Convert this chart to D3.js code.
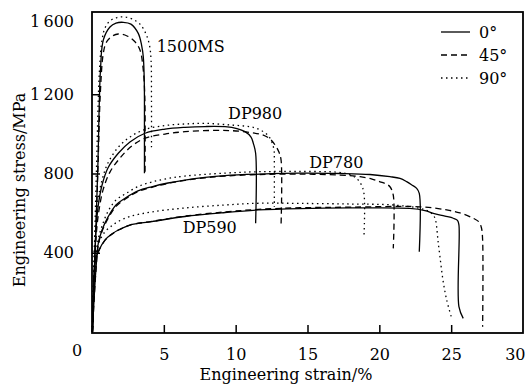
<!DOCTYPE html>
<meta charset="utf-8">
<style>

body {
  margin: 0;
  background-color: white;
  overflow: hidden;
}

text {
  font-family: "DejaVu Serif", serif;
  font-size: 16px;
  fill: black;
}

.curve {
  fill: none;
  stroke: black;
  stroke-width: 1.3px;
}

</style>
<body>

<script src="https://cdn.jsdelivr.net/npm/d3@7"></script>
<script>

// strain (%), stress (MPa)
var ms1500_0 = [[0.03,0],[0.40,818],[0.59,1322],[0.79,1474],[1.25,1539],[1.67,1559],[2.18,1563],[2.71,1554],[3.22,1507],[3.45,1448],[3.57,1389],[3.64,1257],[3.65,1019],[3.65,801]];
var ms1500_45 = [[0.03,0],[0.40,792],[0.59,1221],[0.77,1398],[0.97,1458],[1.32,1489],[1.83,1504],[2.44,1494],[2.99,1465],[3.34,1423],[3.57,1322],[3.68,1171],[3.69,802]];
var ms1500_90 = [[0.02,0],[0.31,818],[0.52,1322],[0.70,1474],[0.90,1534],[1.25,1570],[1.74,1587],[2.23,1590],[2.78,1580],[3.34,1554],[3.76,1504],[4.00,1448],[4.11,1373],[4.14,1171],[4.14,924]];

var dp980_0 = [[0.03,0],[0.14,262],[0.28,515],[0.44,641],[0.70,742],[1.11,828],[1.83,902],[2.64,959],[3.69,1003],[5.08,1024],[6.47,1033],[7.87,1037],[9.26,1036],[10.09,1027],[10.65,1011],[11.07,984],[11.23,952],[11.39,902],[11.39,549]];
var dp980_45 = [[0.03,0],[0.14,262],[0.31,505],[0.49,616],[0.77,717],[1.25,807],[1.95,878],[2.78,939],[3.69,978],[5.08,999],[6.47,1011],[8.21,1017],[9.72,1016],[11.0,1007],[11.92,994],[12.39,974],[12.74,944],[13.01,908],[13.16,868],[13.16,540]];
var dp980_90 = [[0.02,0],[0.10,262],[0.24,525],[0.42,666],[0.70,767],[1.11,853],[1.81,931],[2.64,984],[3.69,1022],[5.08,1042],[6.47,1050],[7.87,1053],[9.61,1045],[11.0,1036],[11.48,1027],[11.92,1011],[12.29,989],[12.51,960],[12.67,918],[12.69,868],[12.69,631]];

var dp780_0 = [[0.03,0],[0.14,161],[0.28,323],[0.44,448],[0.70,515],[1.13,582],[1.67,641],[2.30,675],[3.20,712],[4.16,733],[5.29,752],[6.47,767],[7.87,780],[9.26,789],[11.69,797],[14.48,802],[17.26,800],[19.35,795],[20.74,784],[21.44,775],[21.90,759],[22.27,742],[22.60,725],[22.78,700],[22.78,405]];
var dp780_45 = [[0.03,0],[0.14,155],[0.28,315],[0.44,440],[0.70,508],[1.13,575],[1.67,634],[2.30,670],[3.20,708],[4.16,730],[5.29,750],[6.47,765],[7.87,778],[9.26,787],[11.69,795],[14.48,797],[17.26,792],[18.65,784],[19.49,772],[20.05,758],[20.47,747],[20.74,733],[20.97,691],[20.97,422]];
var dp780_90 = [[0.02,0],[0.10,161],[0.24,338],[0.42,464],[0.70,535],[1.13,611],[1.67,666],[2.30,696],[3.20,734],[4.16,757],[5.29,775],[6.47,787],[9.26,802],[11.69,809],[14.48,810],[16.98,807],[17.82,797],[18.38,777],[18.72,747],[18.93,700],[18.93,481]];

var dp590_0 = [[0.03,0],[0.10,161],[0.17,313],[0.28,373],[0.49,414],[0.90,464],[1.39,495],[1.83,515],[2.64,540],[4.16,557],[6.47,583],[9.26,603],[11.58,616],[14.48,623],[17.96,626],[22.13,624],[23.18,613],[23.76,599],[24.57,585],[25.15,574],[25.44,563],[25.54,540],[25.54,128],[25.84,69]];
var dp590_45 = [[0.03,0],[0.10,161],[0.17,310],[0.28,370],[0.49,412],[0.90,462],[1.39,494],[1.83,514],[2.64,540],[4.16,558],[6.47,585],[9.26,606],[11.58,619],[14.48,627],[17.96,630],[22.83,632],[24.69,616],[25.61,601],[26.54,574],[26.94,555],[27.11,525],[27.19,464],[27.19,27]];
var dp590_90 = [[0.02,0],[0.09,161],[0.16,323],[0.28,404],[0.49,454],[0.90,505],[1.39,537],[1.83,558],[2.64,583],[4.16,606],[6.47,626],[9.26,641],[11.69,650],[14.48,649],[17.96,646],[20.97,641],[22.83,624],[23.39,611],[23.76,590],[23.91,565],[23.99,531],[24.08,464],[24.22,380],[24.43,262],[24.69,161],[25.04,69]];

var orientations = ["0°", "45°", "90°"];
var dashes = ["none", "6,4", "1.5,3.5"];

var steels = ["1500MS", "DP980", "DP780", "DP590"];
var curves = [
  [ms1500_0, ms1500_45, ms1500_90],
  [dp980_0, dp980_45, dp980_90],
  [dp780_0, dp780_45, dp780_90],
  [dp590_0, dp590_45, dp590_90]
];
// where each steel name sits (strain, stress)
var steelLabelAt = [[4.5, 1411], [9.47, 1075], [15.12, 830], [6.31, 502]];

var xTicks = [5, 10, 15, 20, 25, 30];
var yTicks = [400, 800, 1200, 1600];

var width = 525,
    height = 385;

var x = d3.scaleLinear()
    .domain([0, 30])
    .range([92, 523]);

var y = d3.scaleLinear()
    .domain([0, 1615])
    .range([332, 12]);

var svg = d3.select("body").append("svg")
    .attr("width", width)
    .attr("height", height);

var line = d3.line()
    .x(function(d) { return x(d[0]); })
    .y(function(d) { return y(d[1]); })
    .curve(d3.curveCatmullRom.alpha(0.5));

curves.forEach(function(group) {
  group.forEach(function(pts, i) {
    svg.append("path")
        .attr("class", "curve")
        .attr("d", line(pts))
        .style("stroke-dasharray", dashes[i]);
  });
});

// axes, ticks pointing inward
var xAxis = svg.append("g")
    .attr("transform", "translate(0," + 333 + ")")
    .call(d3.axisBottom(x).tickValues(xTicks).tickSizeInner(-8).tickSizeOuter(0).tickPadding(16));

var yAxis = svg.append("g")
    .attr("transform", "translate(" + 92 + ",0)")
    .call(d3.axisLeft(y).tickValues(yTicks).tickSizeInner(-8).tickSizeOuter(0).tickPadding(18)
      .tickFormat(function(d) {
        return d >= 1000 ? Math.floor(d / 1000) + "\u2009" + d3.format("03d")(d % 1000) : d;
      }));

[xAxis, yAxis].forEach(function(g) {
  g.select(".domain").remove();
  g.selectAll("text")
      .attr("font-family", null)
      .attr("font-size", null);
  g.selectAll(".tick line")
      .attr("stroke-width", 1.5);
});

yAxis.selectAll(".tick")
    .filter(function(d) { return d === 1600; })
    .each(function() {
      d3.select(this).select("line").remove();
      d3.select(this).select("text").attr("dy", "0.7em");
    });

// last x tick sits on the frame; keep its label inside the page
xAxis.selectAll(".tick")
    .filter(function(d) { return d === 30; })
    .each(function() {
      d3.select(this).select("line").remove();
      d3.select(this).select("text")
          .attr("text-anchor", "end")
          .attr("x", 2);
    });

svg.append("text")
    .attr("x", 77)
    .attr("y", 356)
    .attr("text-anchor", "middle")
    .text("0");

svg.append("rect")
    .attr("x", 92)
    .attr("y", 12)
    .attr("width", 431)
    .attr("height", 321)
    .attr("fill", "none")
    .attr("stroke", "black")
    .attr("stroke-width", 1.8);

svg.append("text")
    .attr("x", 286)
    .attr("y", 380)
    .attr("text-anchor", "middle")
    .text("Engineering strain/%");

svg.append("text")
    .attr("transform", "translate(25,190)rotate(-90)")
    .attr("text-anchor", "middle")
    .text("Engineering stress/MPa");

steels.forEach(function(name, i) {
  svg.append("text")
      .attr("x", x(steelLabelAt[i][0]))
      .attr("y", y(steelLabelAt[i][1]))
      .text(name);
});

// legend
var legend = svg.append("g")
    .attr("transform", "translate(441,32)");

orientations.forEach(function(o, i) {
  var row = legend.append("g")
      .attr("transform", "translate(0," + (i * 23) + ")");
  row.append("line")
      .attr("class", "curve")
      .attr("x1", 0)
      .attr("x2", 29)
      .style("stroke-dasharray", dashes[i]);
  row.append("text")
      .attr("x", 38)
      .attr("dy", "0.36em")
      .text(o);
});

</script>
